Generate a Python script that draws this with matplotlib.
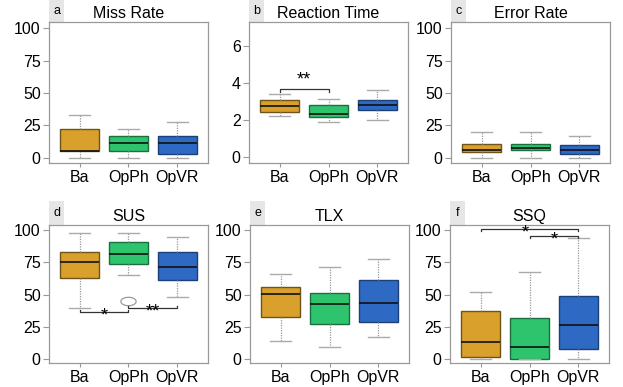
import matplotlib
matplotlib.use("Agg")
import numpy as np
import matplotlib.pyplot as plt
from matplotlib.patches import Rectangle

plt.rcParams['font.family'] = ['Liberation Sans', 'DejaVu Sans']

groups = ["Ba", "OpPh", "OpVR"]
colors = ["#D9A12C", "#2EC46D", "#2E6AC4"]
edges = ["#6E5418", "#1C6E3E", "#1B3F78"]

# each row: (whislo, q1, med, q3, whishi) per group
miss_rate = [(0, 5.6, 5.6, 22.2, 33.3), (0, 5.6, 11.1, 16.7, 22.2), (0, 2.8, 11.1, 16.7, 27.8)]
reaction_time = [(2.25, 2.45, 2.75, 3.09, 3.4), (1.93, 2.18, 2.36, 2.8, 3.13), (2.04, 2.53, 2.82, 3.09, 3.64)]
error_rate = [(0, 4.7, 5.8, 11.0, 19.6), (0, 5.8, 7.9, 11.0, 19.6), (0, 2.6, 5.8, 9.7, 16.5)]
sus = [(40, 62.6, 75, 82.7, 97.5), (65.2, 74, 81.2, 91.2, 97.5), (47.9, 61.3, 71.4, 82.7, 95)]
sus_outliers = [[], [45], []]
tlx = [(14.4, 33, 50.3, 55.7, 65.7), (9.3, 27, 42.5, 51, 71.1), (17, 28.6, 43.3, 61.1, 77.3)]
ssq = [(0, 2, 13.4, 37.1, 52.3), (0, 0, 9.3, 31.7, 67.3), (0, 7.7, 26.3, 48.7, 93.6)]

panels = [
    ("a", "Miss Rate", miss_rate, None, (-4, 105), [0, 25, 50, 75, 100]),
    ("b", "Reaction Time", reaction_time, None, (-0.3, 7.3), [0, 2, 4, 6]),
    ("c", "Error Rate", error_rate, None, (-4, 105), [0, 25, 50, 75, 100]),
    ("d", "SUS", sus, sus_outliers, (-3, 104), [0, 25, 50, 75, 100]),
    ("e", "TLX", tlx, None, (-3, 104), [0, 25, 50, 75, 100]),
    ("f", "SSQ", ssq, None, (-3, 104), [0, 25, 50, 75, 100]),
]

# (panel, x1, x2, y, tick direction, text, text y)
sig = [
    ("b", 1, 2, 3.67, -0.12, "**", 3.7),
    ("d", 1, 2, 36.9, 1.5, "*", 27.0),
    ("d", 2, 3, 40.0, 1.5, "**", 30.0),
    ("f", 1, 3, 101.0, -1.8, "*", 91.5),
    ("f", 2, 3, 95.6, -1.8, "*", 86.0),
]

# flat open oval, like the outlier mark in the source
t = np.linspace(0, 2 * np.pi, 40)
oval = np.column_stack([np.cos(t), 0.55 * np.sin(t)])

lefts = [49, 249, 451, 49, 250, 450]
fig = plt.figure(figsize=(6.23, 3.87), dpi=100)
W, H = 623, 387

for i, (lab, title, data, outl, ylim, yt) in enumerate(panels):
    row = i // 3
    top, bot = (22, 163) if row == 0 else (225, 363)
    ax = fig.add_axes([lefts[i] / W, (H - bot) / H, 159 / W, (bot - top) / H])
    stats = []
    for j, s in enumerate(data):
        stats.append(dict(whislo=s[0], q1=s[1], med=s[2], q3=s[3], whishi=s[4],
                          fliers=outl[j] if outl else []))
    bp = ax.bxp(stats, positions=[1, 2, 3], widths=0.8, patch_artist=True,
                whiskerprops=dict(color="#999999", linestyle=(0, (1, 1)), linewidth=0.9),
                capprops=dict(color="#AAAAAA", linewidth=1.0),
                medianprops=dict(color="#111111", linewidth=1.2),
                flierprops=dict(marker=oval, markerfacecolor="none", markeredgecolor="#999999",
                                markersize=11, markeredgewidth=0.9),
                capwidths=0.42)
    for box, c, e in zip(bp["boxes"], colors, edges):
        box.set_facecolor(c)
        box.set_edgecolor(e)
        box.set_linewidth(1.0)
    ax.set_xlim(0.37, 3.63)
    ax.set_ylim(*ylim)
    ax.set_yticks(yt)
    ax.set_xticks([1, 2, 3])
    ax.set_xticklabels(groups)
    for sp in ax.spines.values():
        sp.set_color("#999999")
        sp.set_linewidth(0.9)
    ax.tick_params(axis="both", colors="#999999", labelcolor="black", labelsize=11.5, width=0.8)
    ax.tick_params(axis="x", length=3, pad=2)
    ax.tick_params(axis="y", length=4, pad=2)
    ax.set_title(title, fontsize=11.5, pad=3)
    lh = 22 if row == 0 else 24
    ax.add_patch(Rectangle((0, 1), 15 / 159, lh / (bot - top), transform=ax.transAxes,
                           facecolor="#E6E6E6", edgecolor="none", clip_on=False))
    ax.text(7.5 / 159, 1 + lh / (bot - top) / 2, lab, transform=ax.transAxes,
            ha="center", va="center", fontsize=9)
    for p, x1, x2, y, d, txt, ty in sig:
        if p != lab:
            continue
        ax.plot([x1, x1, x2, x2], [y + d, y, y, y + d], color="#333333", linewidth=0.9, clip_on=False)
        ax.text((x1 + x2) / 2 - (0.08 if p == "f" and x1 == 1 else 0), ty, txt,
                ha="center", va="bottom", fontsize=13)

fig.savefig("out.png", dpi=100)
